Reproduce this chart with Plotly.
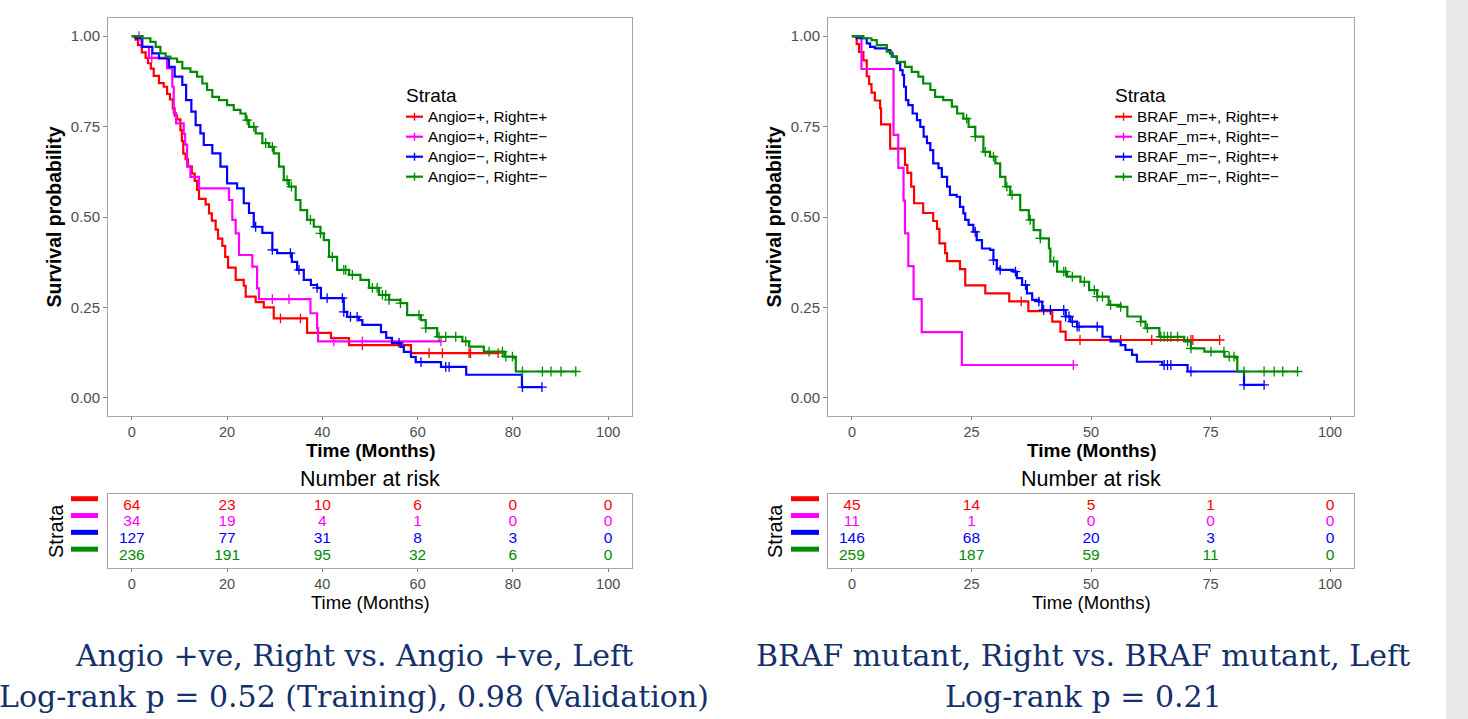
import numpy as np
import plotly.graph_objects as go

W, H = 1468, 719

# ---------------- colours / fonts ----------------
STRATA_COLORS = ["#ff0000", "#ff00ff", "#0000ff", "#008b00"]
SANS = "Liberation Sans, Arial, Helvetica, sans-serif"
SERIF = "DejaVu Serif, serif"
NAVY = "#13306b"
TICK_FONT = "#4d4d4d"
BORDER = "#a6a6a6"

# ================= LEFT PANEL : Angio =================
angio_strata = ["Angio=+, Right=+", "Angio=+, Right=\u2212",
                "Angio=\u2212, Right=+", "Angio=\u2212, Right=\u2212"]

angio_pp_time = [0, 0.8, 1.3, 2.1, 2.9, 3.4, 4.0, 4.6, 5.7, 6.7, 7.4, 8.0, 8.6, 9.0, 9.5,
                 10.2, 10.5, 10.8, 11.3, 11.8, 12.6, 13.2, 13.7, 14.1, 15.5, 16.2, 16.8,
                 17.6, 18.1, 19.0, 19.6, 20.2, 21.8, 23.5, 23.9, 26.0, 27.7, 29.8, 36.8,
                 41.8, 45.6, 58.6, 76.9]
angio_pp_surv = [1.0, 0.99, 0.975, 0.955, 0.94, 0.925, 0.91, 0.89, 0.87, 0.86, 0.84, 0.825,
                 0.80, 0.78, 0.77, 0.74, 0.71, 0.675, 0.66, 0.64, 0.62, 0.60, 0.575, 0.55,
                 0.535, 0.51, 0.49, 0.465, 0.44, 0.42, 0.39, 0.36, 0.326, 0.31, 0.28, 0.265,
                 0.25, 0.22, 0.18, 0.165, 0.146, 0.124, 0.124]
angio_pp_cens = [31.2, 35.4, 48.4, 62.4, 65.2, 70.8, 71.1, 76.9]

angio_pm_time = [0, 2.0, 3.6, 7.4, 8.5, 8.8, 9.3, 10.9, 11.2, 11.6, 12.3, 14.1, 20.4, 21.1,
                 21.8, 22.5, 25.3, 26.3, 26.7, 37.5, 38.9, 39.1, 64.9]
angio_pm_surv = [1.0, 0.97, 0.94, 0.911, 0.86, 0.787, 0.759, 0.73, 0.70, 0.639, 0.611, 0.579,
                 0.547, 0.492, 0.455, 0.395, 0.363, 0.303, 0.273, 0.234, 0.193, 0.156, 0.156]
angio_pm_cens = [1.5, 4.2, 29.5, 33.0, 42.4, 48.4, 64.9]

angio_mp_time = [0, 0.8, 2.2, 4.3, 5.7, 7.8, 9.0, 10.6, 11.4, 12.5, 13.4, 14.4, 15.1, 16.9,
                 18.6, 20.0, 22.1, 23.5, 24.6, 25.6, 27.4, 29.5, 30.5, 33.6, 34.7, 36.1,
                 37.6, 38.9, 39.7, 44.5, 45.2, 47.7, 48.4, 52.3, 53.4, 54.6, 56.5, 57.1,
                 58.6, 59.6, 64.9, 70.2, 81.9, 86.1]
angio_mp_surv = [1.0, 0.994, 0.970, 0.952, 0.938, 0.915, 0.888, 0.865, 0.823, 0.791, 0.754,
                 0.731, 0.699, 0.676, 0.639, 0.593, 0.579, 0.538, 0.511, 0.473, 0.456, 0.409,
                 0.40, 0.376, 0.354, 0.326, 0.312, 0.304, 0.276, 0.238, 0.224, 0.215, 0.202,
                 0.182, 0.166, 0.152, 0.141, 0.127, 0.113, 0.099, 0.086, 0.064, 0.030, 0.030]
angio_mp_cens = [26.0, 29.5, 33.3, 35.1, 38.9, 41.0, 44.2, 44.5, 45.9, 47.3, 56.1, 60.7,
                 65.9, 66.6, 82.0, 86.1]

angio_mm_time = [0, 2.2, 3.9, 5.0, 6.0, 7.1, 8.1, 9.5, 10.6, 12.3, 13.7, 14.8, 15.8, 16.9,
                 18.3, 20.0, 21.4, 22.8, 23.9, 24.6, 26.0, 27.4, 28.8, 29.8, 30.9, 31.9,
                 33.0, 34.4, 35.4, 36.8, 38.2, 39.6, 40.3, 41.4, 43.1, 45.6, 48.0, 49.8,
                 51.9, 54.0, 56.4, 57.8, 60.7, 61.7, 64.1, 69.4, 70.8, 73.9, 78.2, 80.3,
                 80.6, 93.2]
angio_mm_surv = [1.0, 0.994, 0.984, 0.970, 0.952, 0.943, 0.938, 0.929, 0.911, 0.901, 0.888,
                 0.869, 0.851, 0.832, 0.823, 0.809, 0.796, 0.786, 0.768, 0.749, 0.731, 0.704,
                 0.694, 0.676, 0.639, 0.602, 0.584, 0.547, 0.519, 0.492, 0.473, 0.455, 0.436,
                 0.390, 0.354, 0.340, 0.326, 0.304, 0.285, 0.271, 0.262, 0.229, 0.215, 0.193,
                 0.169, 0.156, 0.142, 0.128, 0.114, 0.110, 0.073, 0.073]
angio_mm_cens = [24.2, 25.6, 28.1, 29.5, 32.6, 33.5, 37.5, 39.6, 42.1, 44.5, 44.9, 46.3,
                 50.5, 51.5, 52.6, 53.3, 54.0, 56.4, 60.3, 61.7, 64.5, 65.9, 68.0, 70.1,
                 75.0, 77.8, 78.5, 79.9, 82.0, 86.2, 88.0, 90.1, 93.2]

angio_axis_ticks = [0, 20, 40, 60, 80, 100]
angio_risk_pp = [64, 23, 10, 6, 0, 0]
angio_risk_pm = [34, 19, 4, 1, 0, 0]
angio_risk_mp = [127, 77, 31, 8, 3, 0]
angio_risk_mm = [236, 191, 95, 32, 6, 0]

angio_caption_1 = "Angio +ve, Right vs. Angio +ve, Left"
angio_caption_2 = "Log-rank p = 0.52 (Training), 0.98 (Validation)"

# ================= RIGHT PANEL : BRAF =================
braf_strata = ["BRAF_m=+, Right=+", "BRAF_m=+, Right=\u2212",
               "BRAF_m=\u2212, Right=+", "BRAF_m=\u2212, Right=\u2212"]

braf_pp_time = [0, 1.0, 1.5, 2.4, 3.1, 3.6, 4.1, 4.8, 5.9, 6.1, 8.0, 11.1, 11.6, 12.4, 13.0,
                14.9, 17.0, 17.8, 18.3, 19.5, 19.9, 22.6, 23.7, 27.9, 32.9, 36.9, 41.9, 43.6,
                44.7, 76.9]
braf_pp_surv = [1.0, 0.978, 0.956, 0.933, 0.889, 0.867, 0.844, 0.822, 0.800, 0.756, 0.689,
                0.644, 0.622, 0.584, 0.538, 0.511, 0.489, 0.467, 0.427, 0.400, 0.378, 0.356,
                0.311, 0.289, 0.267, 0.240, 0.211, 0.183, 0.160, 0.160]
braf_pp_cens = [35.4, 47.7, 56.2, 62.7, 70.9, 71.3, 76.9]

braf_pm_time = [0, 2.0, 8.7, 9.7, 10.8, 11.1, 11.8, 12.9, 14.6, 23.0, 46.3]
braf_pm_surv = [1.0, 0.909, 0.727, 0.636, 0.545, 0.455, 0.364, 0.273, 0.182, 0.091, 0.091]
braf_pm_cens = [46.3]

braf_mp_time = [0, 1.0, 3.1, 3.8, 4.8, 7.3, 8.0, 8.5, 9.4, 10.1, 10.6, 10.9, 11.3, 11.8, 12.7,
                13.6, 14.3, 15.0, 15.7, 16.4, 17.0, 18.1, 18.8, 19.9, 20.5, 21.9, 22.6, 23.3,
                23.7, 24.4, 25.4, 26.1, 27.2, 28.9, 29.6, 30.3, 31.0, 33.8, 34.5, 35.6, 36.6,
                37.7, 39.1, 39.8, 44.7, 45.7, 47.1, 52.4, 54.1, 56.2, 57.2, 58.6, 59.6, 64.9,
                70.2, 82.0, 86.2]
braf_mp_surv = [1.0, 0.994, 0.980, 0.970, 0.966, 0.961, 0.952, 0.943, 0.925, 0.906, 0.892,
                0.860, 0.823, 0.809, 0.786, 0.768, 0.749, 0.722, 0.704, 0.685, 0.648, 0.635,
                0.611, 0.584, 0.561, 0.556, 0.528, 0.510, 0.492, 0.478, 0.459, 0.436, 0.413,
                0.409, 0.381, 0.358, 0.354, 0.349, 0.331, 0.312, 0.289, 0.271, 0.266, 0.243,
                0.225, 0.211, 0.197, 0.169, 0.156, 0.146, 0.133, 0.119, 0.100, 0.091, 0.073,
                0.036, 0.036]
braf_mp_cens = [25.8, 29.6, 31.0, 34.2, 36.3, 39.1, 40.1, 41.5, 44.3, 44.7, 45.4, 46.1, 47.1,
                47.5, 51.3, 65.3, 66.0, 66.7, 70.9, 82.0, 86.2]

braf_mm_time = [0, 2.4, 4.1, 5.2, 7.3, 8.3, 9.4, 11.1, 12.5, 13.9, 14.9, 16.4, 17.4, 19.1,
                20.9, 22.0, 23.3, 24.4, 25.8, 27.5, 28.9, 30.0, 31.0, 32.1, 33.1, 35.2, 37.0,
                38.0, 39.4, 41.2, 41.5, 42.9, 45.0, 47.8, 49.6, 51.3, 53.7, 56.2, 57.6, 60.4,
                61.4, 64.3, 69.5, 70.9, 73.7, 77.9, 80.3, 80.6, 93.2]
braf_mm_surv = [1.0, 0.994, 0.989, 0.975, 0.957, 0.943, 0.929, 0.915, 0.901, 0.888, 0.869,
                0.851, 0.832, 0.823, 0.805, 0.786, 0.772, 0.749, 0.722, 0.680, 0.667, 0.648,
                0.611, 0.584, 0.561, 0.519, 0.492, 0.464, 0.441, 0.413, 0.377, 0.349, 0.335,
                0.321, 0.298, 0.280, 0.257, 0.252, 0.225, 0.211, 0.193, 0.169, 0.156, 0.137,
                0.128, 0.114, 0.110, 0.073, 0.073]
braf_mm_cens = [24.0, 25.8, 27.9, 29.6, 32.4, 33.5, 37.3, 39.4, 42.2, 44.3, 44.7, 46.1, 48.6,
                50.7, 51.3, 52.4, 54.1, 56.2, 60.4, 61.8, 64.6, 65.3, 66.0, 66.7, 68.1, 70.2,
                70.9, 75.1, 77.8, 78.9, 79.9, 82.0, 86.2, 88.3, 90.1, 93.2]

braf_axis_ticks = [0, 25, 50, 75, 100]
braf_risk_pp = [45, 14, 5, 1, 0]
braf_risk_pm = [11, 1, 0, 0, 0]
braf_risk_mp = [146, 68, 20, 3, 0]
braf_risk_mm = [259, 187, 59, 11, 0]

braf_caption_1 = "BRAF mutant, Right vs. BRAF mutant, Left"
braf_caption_2 = "Log-rank p = 0.21"

y_ticks = [0, 0.25, 0.5, 0.75, 1.0]
y_ticktext = ["0.00", "0.25", "0.50", "0.75", "1.00"]


# ---------------- helpers ----------------
def px(x):
    return x / W


def py(y):
    return 1 - y / H


def step_at(t, s, q):
    t = np.asarray(t, dtype=float)
    s = np.asarray(s, dtype=float)
    idx = np.searchsorted(t, np.asarray(q, dtype=float), side="right") - 1
    return s[np.clip(idx, 0, len(s) - 1)]


# layout geometry (pixels)
panels = [
    dict(
        km=("x", "y"), risk=("x3", "y3"),
        curves=[(angio_pp_time, angio_pp_surv, angio_pp_cens),
                (angio_pm_time, angio_pm_surv, angio_pm_cens),
                (angio_mp_time, angio_mp_surv, angio_mp_cens),
                (angio_mm_time, angio_mm_surv, angio_mm_cens)],
        strata=angio_strata, ticks=angio_axis_ticks,
        risk_rows=[angio_risk_pp, angio_risk_pm, angio_risk_mp, angio_risk_mm],
        left=108, right=632, legend_x=406, bar_x=(71, 98), strata_x=56,
        cap=(angio_caption_1, angio_caption_2), cap_x=354,
    ),
    dict(
        km=("x2", "y2"), risk=("x4", "y4"),
        curves=[(braf_pp_time, braf_pp_surv, braf_pp_cens),
                (braf_pm_time, braf_pm_surv, braf_pm_cens),
                (braf_mp_time, braf_mp_surv, braf_mp_cens),
                (braf_mm_time, braf_mm_surv, braf_mm_cens)],
        strata=braf_strata, ticks=braf_axis_ticks,
        risk_rows=[braf_risk_pp, braf_risk_pm, braf_risk_mp, braf_risk_mm],
        left=828, right=1354, legend_x=1115, bar_x=(791, 819), strata_x=775,
        cap=(braf_caption_1, braf_caption_2), cap_x=1083,
    ),
]

KM_TOP, KM_BOTTOM = 18, 416
RISK_TOP, RISK_BOTTOM = 494, 568

fig = go.Figure()
shapes = []
annotations = []

# background grey strip on the right
shapes.append(dict(type="rect", xref="paper", yref="paper", x0=px(1446), x1=1, y0=0, y1=1,
                   fillcolor="#e9e9e9", line=dict(width=0), layer="below"))

for p in panels:
    xa, ya = p["km"]
    xr, yr = p["risk"]
    for k, (t, s, c) in enumerate(p["curves"]):
        col = STRATA_COLORS[k]
        fig.add_trace(go.Scatter(x=t, y=s, mode="lines", xaxis=xa, yaxis=ya,
                                 line=dict(color=col, width=2.2, shape="hv"),
                                 showlegend=False, hoverinfo="skip"))
        fig.add_trace(go.Scatter(x=c, y=step_at(t, s, c), mode="markers", xaxis=xa, yaxis=ya,
                                 marker=dict(symbol="cross-thin", size=7, color=col,
                                             line=dict(color=col, width=1.3)),
                                 showlegend=False, hoverinfo="skip"))
    # number at risk rows
    nrow = len(p["risk_rows"])
    for k, row in enumerate(p["risk_rows"]):
        col = STRATA_COLORS[k]
        fig.add_trace(go.Scatter(x=p["ticks"], y=[nrow - k] * len(row), mode="text",
                                 text=[str(v) for v in row], xaxis=xr, yaxis=yr,
                                 textfont=dict(family=SANS, size=15.5, color=col),
                                 cliponaxis=False, showlegend=False, hoverinfo="skip"))
        # strata colour keys of the risk table
        shapes.append(dict(type="line", xref="paper", yref=yr,
                           x0=px(p["bar_x"][0]), x1=px(p["bar_x"][1]),
                           y0=nrow - k + 0.42, y1=nrow - k + 0.42,
                           line=dict(color=col, width=5)))

    # manual legend inside KM panel
    lx = p["legend_x"]
    annotations.append(dict(text="Strata", xref="paper", yref="paper", x=px(lx - 2), y=py(95),
                            xanchor="left", yanchor="middle", showarrow=False,
                            font=dict(family=SANS, size=19, color="black")))
    for k, lab in enumerate(p["strata"]):
        yy = 116.7 + 20 * k
        col = STRATA_COLORS[k]
        shapes.append(dict(type="line", xref="paper", yref="paper", x0=px(lx), x1=px(lx + 17),
                           y0=py(yy), y1=py(yy), line=dict(color=col, width=2.2)))
        shapes.append(dict(type="line", xref="paper", yref="paper", x0=px(lx + 8.5),
                           x1=px(lx + 8.5), y0=py(yy - 4), y1=py(yy + 4),
                           line=dict(color=col, width=1.4)))
        annotations.append(dict(text=lab, xref="paper", yref="paper", x=px(lx + 20), y=py(yy),
                                xanchor="left", yanchor="middle", showarrow=False,
                                font=dict(family=SANS, size=15.3, color="black")))

    mid = (p["left"] + p["right"]) / 2
    # axis titles
    annotations.append(dict(text="Time (Months)", xref="paper", yref="paper", x=px(mid),
                            y=py(451), xanchor="center", yanchor="middle", showarrow=False,
                            borderpad=0,
                            font=dict(family=SANS, size=19, color="black", weight="bold")))
    annotations.append(dict(text="Time (Months)", xref="paper", yref="paper", x=px(mid),
                            y=py(602), xanchor="center", yanchor="middle", showarrow=False,
                            borderpad=0, font=dict(family=SANS, size=18.5, color="black")))
    annotations.append(dict(text="Number at risk", xref="paper", yref="paper", x=px(mid),
                            y=py(479), xanchor="center", yanchor="middle", showarrow=False,
                            font=dict(family=SANS, size=21.5, color="black")))
    annotations.append(dict(text="Strata", xref="paper", yref="paper", x=px(p["strata_x"]),
                            y=py(531), xanchor="center", yanchor="middle", showarrow=False,
                            textangle=-90, font=dict(family=SANS, size=20, color="black")))
    annotations.append(dict(text=p["cap"][0], xref="paper", yref="paper", x=px(p["cap_x"]),
                            y=py(655), xanchor="center", yanchor="middle", showarrow=False,
                            font=dict(family=SERIF, size=30, color=NAVY)))
    annotations.append(dict(text=p["cap"][1], xref="paper", yref="paper", x=px(p["cap_x"]),
                            y=py(696), xanchor="center", yanchor="middle", showarrow=False,
                            font=dict(family=SERIF, size=30, color=NAVY)))


def x_axis(left, right, ticks, anchor):
    return dict(domain=[px(left), px(right)], range=[-5, 105], anchor=anchor,
                tickmode="array", tickvals=ticks, ticktext=[str(v) for v in ticks],
                ticks="outside", ticklen=3, tickwidth=1, tickcolor="#808080",
                showline=True, mirror=True, linecolor=BORDER, linewidth=1,
                showgrid=False, zeroline=False, automargin=False,
                tickfont=dict(family=SANS, size=14.5, color=TICK_FONT))


def km_y(anchor):
    return dict(domain=[py(KM_BOTTOM), py(KM_TOP)], range=[-0.05, 1.05], anchor=anchor,
                tickmode="array", tickvals=y_ticks, ticktext=y_ticktext,
                ticks="outside", ticklen=4, tickwidth=1, tickcolor="#808080",
                showline=True, mirror=True, linecolor=BORDER, linewidth=1,
                showgrid=False, zeroline=False, automargin=False,
                tickfont=dict(family=SANS, size=15, color=TICK_FONT),
                title=dict(text="Survival probability", standoff=3,
                           font=dict(family=SANS, size=19.5, color="black", weight="bold")))


def risk_y(anchor):
    return dict(domain=[py(RISK_BOTTOM), py(RISK_TOP)], range=[0.3, 4.7], anchor=anchor,
                showticklabels=False, ticks="", showline=True, mirror=True,
                linecolor=BORDER, linewidth=1, showgrid=False, zeroline=False,
                automargin=False)


L, R = panels
fig.update_layout(
    width=W, height=H, margin=dict(l=0, r=0, t=0, b=0),
    paper_bgcolor="white", plot_bgcolor="white", showlegend=False,
    xaxis=x_axis(L["left"], L["right"], L["ticks"], "y"),
    yaxis=km_y("x"),
    xaxis2=x_axis(R["left"], R["right"], R["ticks"], "y2"),
    yaxis2=km_y("x2"),
    xaxis3=x_axis(L["left"], L["right"], L["ticks"], "y3"),
    yaxis3=risk_y("x3"),
    xaxis4=x_axis(R["left"], R["right"], R["ticks"], "y4"),
    yaxis4=risk_y("x4"),
    shapes=shapes, annotations=annotations,
)

fig.write_html("out.html")
